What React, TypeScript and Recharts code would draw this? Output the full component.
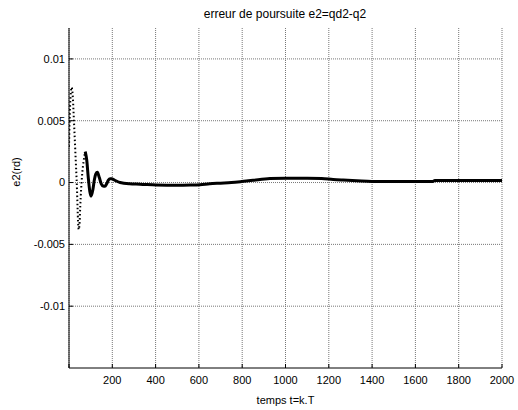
import { LineChart, Line, XAxis, YAxis, CartesianGrid } from "recharts";

// temps (k.T) et erreur e2 (rd)
const transientT = [0, 5, 12, 18, 22, 29, 37, 42, 45, 49, 52, 60, 68, 75];
const transientE = [
    0.0029, 0.0062, 0.0077, 0.0068, 0.0053, 0.0026, -0.0006, -0.0032, -0.0038, -0.0032,
    -0.0019, 0.0005, 0.0018, 0.0025,
];

const settleT = [
    75, 82, 89, 96, 102, 110, 117, 124, 131, 140, 149, 158, 166, 174, 182, 190, 197, 210, 236,
    280, 328, 405, 500, 560, 605, 650, 700, 750, 798, 850, 928, 1000, 1100, 1167, 1220, 1266,
    1330, 1398, 1500, 1600, 1680, 1690, 1800, 1900, 2000,
];
const settleE = [
    0.0025, 0.0018, 0.0004, -0.0007, -0.0011, -0.0006, 0.0002, 0.0007, 0.00083, 0.0004,
    -0.0001, -0.00028, -0.0003, -0.0001, 0.0002, 0.0003, 0.0003, 0.0002, 0.0, -0.0001,
    -0.00013, -0.0002, -0.00022, -0.0002, -0.00017, -0.0001, -0.00005, 0.0, 0.00008, 0.00018,
    0.00032, 0.00035, 0.00035, 0.00033, 0.00025, 0.0002, 0.00014, 0.00008, 0.00008, 0.00008,
    0.00008, 0.00016, 0.00016, 0.00016, 0.00016,
];

const xTicks = [0, 200, 400, 600, 800, 1000, 1200, 1400, 1600, 1800, 2000];
const yTicks = [-0.01, -0.005, 0, 0.005, 0.01];

const transient = transientT.map((t, i) => ({ t, e: transientE[i] }));
const settle = settleT.map((t, i) => ({ t, e: settleE[i] }));

const FONT = "'Liberation Sans', Arial, sans-serif";

export default function App() {
    return (
        <div style={{ position: "absolute", left: 0, top: 0, width: 518, height: 410, fontFamily: FONT }}>
            <div
                style={{
                    position: "absolute",
                    left: 0,
                    top: 6,
                    width: 570,
                    textAlign: "center",
                    fontSize: 12,
                    lineHeight: "16px",
                    color: "#000",
                }}
            >
                erreur de poursuite e2=qd2-q2
            </div>
            <LineChart
                width={518}
                height={410}
                margin={{ top: 28, right: 16, bottom: 6, left: 9 }}
                style={{ fontFamily: FONT }}
            >
                <CartesianGrid
                    stroke="#777"
                    strokeDasharray="1 1"
                    verticalValues={xTicks}
                    horizontalValues={yTicks}
                />
                <XAxis
                    dataKey="t"
                    type="number"
                    domain={[0, 2000]}
                    ticks={xTicks}
                    tickFormatter={(v: number) => (v === 0 ? "" : String(v))}
                    height={36}
                    tickSize={-4}
                    tickMargin={12}
                    stroke="#000"
                    tick={{ fontSize: 11, fill: "#000" }}
                    label={{ value: "temps t=k.T", position: "insideBottom", offset: 0, fontSize: 11, fill: "#000" }}
                    allowDataOverflow
                />
                <XAxis
                    xAxisId="top"
                    orientation="top"
                    dataKey="t"
                    type="number"
                    domain={[0, 2000]}
                    ticks={xTicks}
                    height={0}
                    tickSize={-4}
                    axisLine={false}
                    tick={false}
                    stroke="#000"
                />
                <YAxis
                    type="number"
                    domain={[-0.015, 0.0125]}
                    ticks={yTicks}
                    width={60}
                    tickSize={-4}
                    tickMargin={8}
                    stroke="#000"
                    tick={{ fontSize: 11, fill: "#000" }}
                    allowDataOverflow
                    label={{
                        value: "e2(rd)",
                        content: () => (
                            <text
                                x={17}
                                y={172}
                                transform="rotate(-90 17 172)"
                                textAnchor="middle"
                                dominantBaseline="middle"
                                fontSize={11}
                                fill="#000"
                            >
                                e2(rd)
                            </text>
                        ),
                    }}
                />
                <Line
                    data={transient}
                    dataKey="e"
                    type="monotone"
                    stroke="#000"
                    strokeWidth={2}
                    strokeDasharray="1.5 2.5"
                    dot={false}
                    activeDot={false}
                    isAnimationActive={false}
                />
                <Line
                    data={settle}
                    dataKey="e"
                    type="monotone"
                    stroke="#000"
                    strokeWidth={3}
                    dot={false}
                    activeDot={false}
                    isAnimationActive={false}
                />
            </LineChart>
        </div>
    );
}
